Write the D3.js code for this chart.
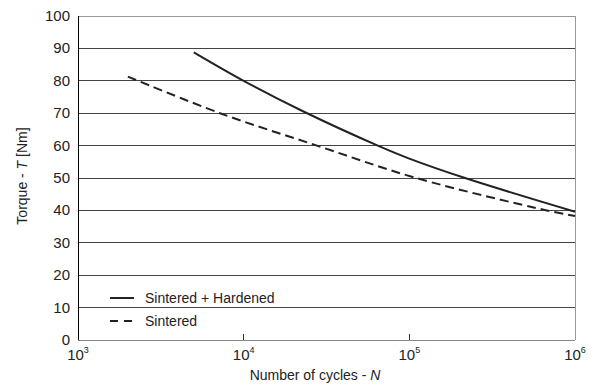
<!DOCTYPE html>
<html>
<head>
<meta charset="utf-8">
<script src="https://cdn.jsdelivr.net/npm/d3@7"></script>
<style>
  body { margin: 0; background: #fff; }
  text { font-family: "Liberation Sans", Arial, sans-serif; fill: #222; }
</style>
</head>
<body>
<div id="chart"></div>
<script>
// values
var cyclesHardened = [5000, 10000, 22800, 64500, 100000, 217000, 1000000];
var torqueHardened = [88.8, 80, 70.6, 60, 56, 50, 39.6];
var cyclesSintered = [2000, 7200, 27700, 110000, 676000, 1000000];
var torqueSintered = [81.3, 70, 60, 50, 40, 38.3];
var xTickExps = [3, 4, 5, 6];
var yTicks = [0, 10, 20, 30, 40, 50, 60, 70, 80, 90, 100];
var seriesNames = ["Sintered + Hardened", "Sintered"];

var w = 599, h = 384;
var margin = { top: 16, right: 24, bottom: 44, left: 78 };

var svg = d3.select("#chart").append("svg")
    .attr("width", w)
    .attr("height", h);

var x = d3.scaleLog()
    .domain([1e3, 1e6])
    .range([margin.left, w - margin.right]);
var y = d3.scaleLinear()
    .domain([0, 100])
    .range([h - margin.bottom, margin.top]);

// grid lines
svg.selectAll("line.grid")
    .data(yTicks.filter(function (d) { return d > 0 && d < 100; }))
    .enter().append("line")
    .attr("class", "grid")
    .attr("x1", x(1e3)).attr("x2", x(1e6))
    .attr("y1", function (d) { return y(d); })
    .attr("y2", function (d) { return y(d); })
    .attr("stroke", "#444")
    .attr("stroke-width", 1)
    .attr("shape-rendering", "crispEdges");

// frame: top, right, bottom grey, left black
var frame = svg.append("g").attr("shape-rendering", "crispEdges");
frame.append("line")
    .attr("x1", x(1e3)).attr("x2", x(1e6)).attr("y1", y(100)).attr("y2", y(100))
    .attr("stroke", "#999");
frame.append("line")
    .attr("x1", x(1e6)).attr("x2", x(1e6)).attr("y1", y(100)).attr("y2", y(0))
    .attr("stroke", "#999");
frame.append("line")
    .attr("x1", x(1e3)).attr("x2", x(1e6)).attr("y1", y(0)).attr("y2", y(0))
    .attr("stroke", "#888");
frame.append("line")
    .attr("x1", x(1e3)).attr("x2", x(1e3)).attr("y1", y(100)).attr("y2", y(0))
    .attr("stroke", "#000");

// x ticks (inward)
frame.selectAll("line.xt")
    .data(xTickExps.slice(1, 3))
    .enter().append("line")
    .attr("x1", function (d) { return x(Math.pow(10, d)); })
    .attr("x2", function (d) { return x(Math.pow(10, d)); })
    .attr("y1", y(0)).attr("y2", y(0) - 6)
    .attr("stroke", "#333");

// y tick labels
svg.selectAll("text.yl")
    .data(yTicks)
    .enter().append("text")
    .attr("x", margin.left - 8)
    .attr("y", function (d) { return y(d) + 5; })
    .attr("text-anchor", "end")
    .attr("font-size", 15)
    .text(function (d) { return d; });

// x tick labels 10^n
var xl = svg.selectAll("text.xl")
    .data(xTickExps)
    .enter().append("text")
    .attr("x", function (d) { return x(Math.pow(10, d)); })
    .attr("y", h - margin.bottom + 20)
    .attr("text-anchor", "middle")
    .attr("font-size", 15);
xl.append("tspan").text("10");
xl.append("tspan")
    .attr("font-size", 9)
    .attr("dy", -7)
    .text(function (d) { return d; });

// axis titles
var xt = svg.append("text")
    .attr("x", 315)
    .attr("y", h - 4)
    .attr("text-anchor", "middle")
    .attr("font-size", 14);
xt.append("tspan").text("Number of cycles - ");
xt.append("tspan").attr("font-style", "italic").text("N");

var yt = svg.append("text")
    .attr("transform", "translate(27," + (y(50) - 2) + ") rotate(-90)")
    .attr("text-anchor", "middle")
    .attr("font-size", 14);
yt.append("tspan").text("Torque - ");
yt.append("tspan").attr("font-style", "italic").text("T");
yt.append("tspan").text(" [Nm]");

// curves
var line = d3.line()
    .x(function (d) { return x(d[0]); })
    .y(function (d) { return y(d[1]); })
    .curve(d3.curveCatmullRom);

var hardened = d3.zip(cyclesHardened, torqueHardened);
var sintered = d3.zip(cyclesSintered, torqueSintered);

svg.append("path")
    .datum(hardened)
    .attr("d", line)
    .attr("fill", "none")
    .attr("stroke", "#222")
    .attr("stroke-width", 2);

svg.append("path")
    .datum(sintered)
    .attr("d", line)
    .attr("fill", "none")
    .attr("stroke", "#222")
    .attr("stroke-width", 2)
    .attr("stroke-dasharray", "9,5");

// legend
var legend = svg.append("g");
seriesNames.forEach(function (name, i) {
    var ly = 298 + i * 23;
    legend.append("line")
        .attr("x1", 110).attr("x2", 134)
        .attr("y1", ly).attr("y2", ly)
        .attr("stroke", "#222")
        .attr("stroke-width", 2)
        .attr("stroke-dasharray", i === 1 ? "8,6" : null);
    legend.append("text")
        .attr("x", 145)
        .attr("y", ly + 5)
        .attr("font-size", 14)
        .text(name);
});
</script>
</body>
</html>
